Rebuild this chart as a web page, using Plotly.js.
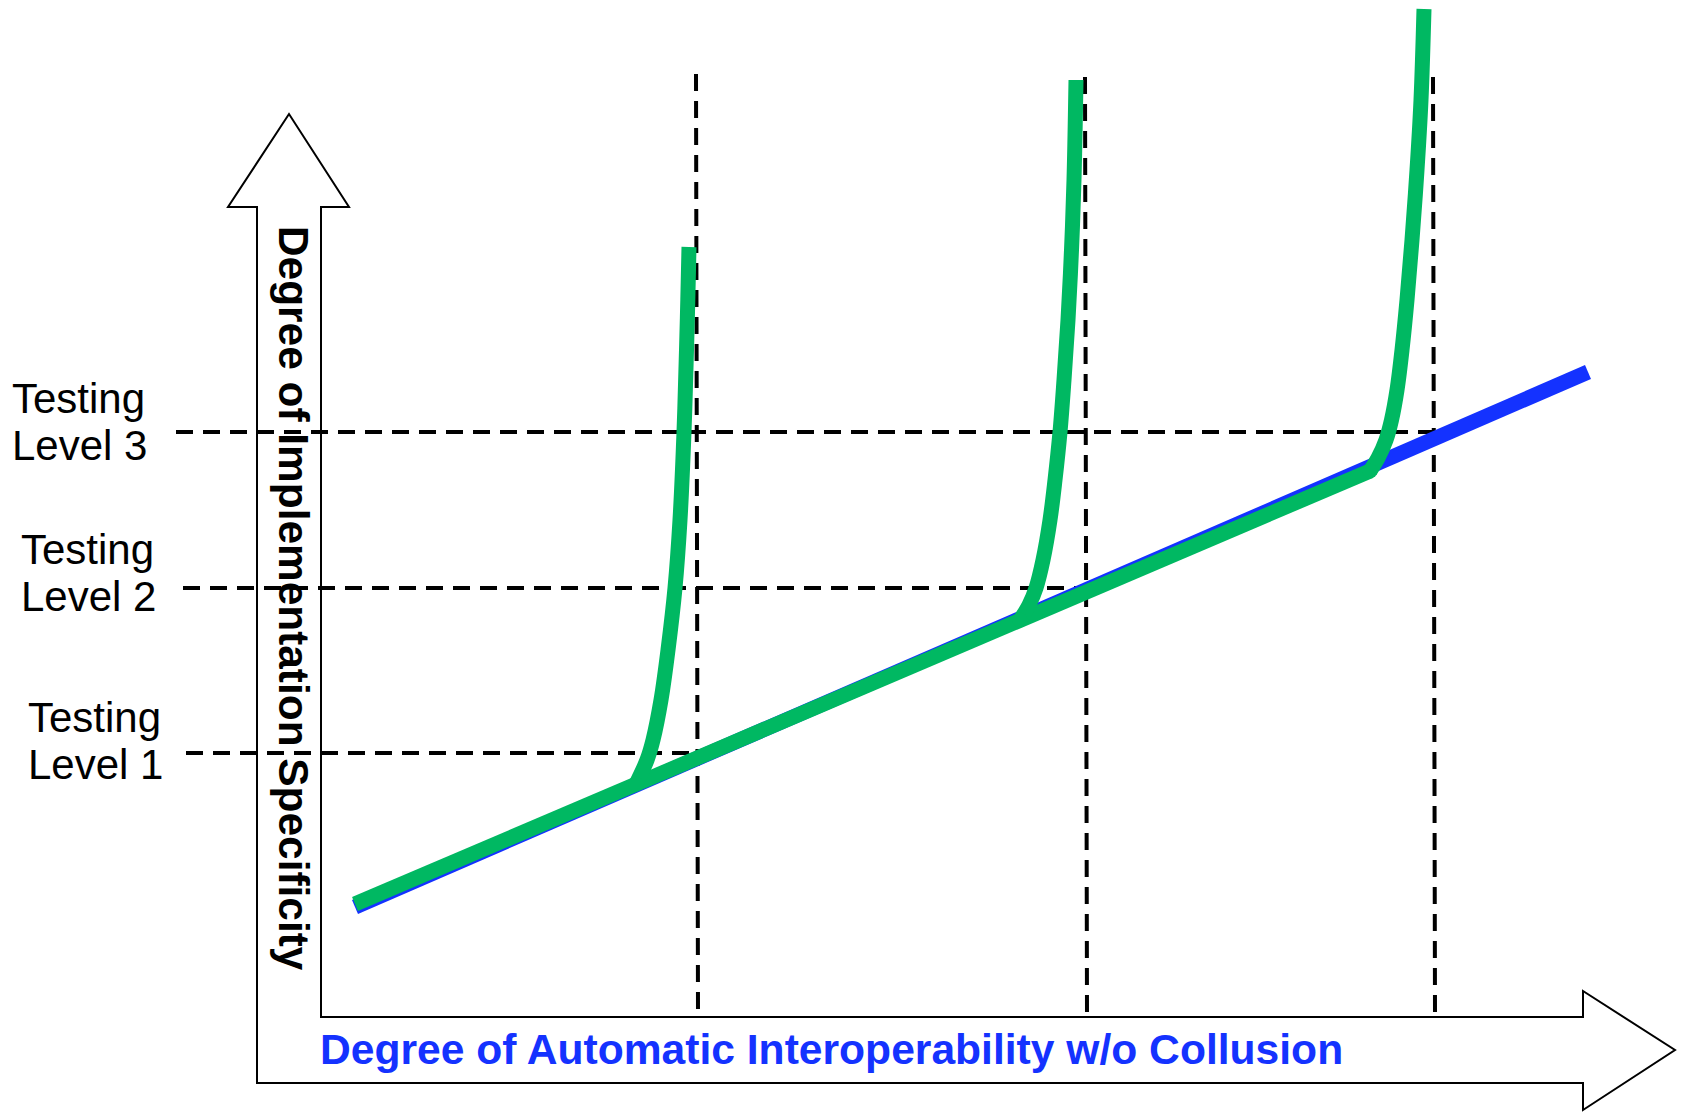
<!DOCTYPE html>
<html>
<head>
<meta charset="utf-8">
<script src="https://cdn.plot.ly/plotly-3.0.1.min.js"></script>
<style>html,body{margin:0;padding:0;background:#fff;}#chart{width:1681px;height:1112px;}</style>
</head>
<body>
<div id="chart"></div>
<script>
// ---------------- data ----------------
// Degree of Automatic Interoperability (x) vs Degree of Implementation Specificity (y)
const levelLine1 = ["Testing", "Testing", "Testing"];
const levelLine2 = ["Level 1", "Level 2", "Level 3"];
const levelY = [2.64, 4.29, 5.85];            // specificity of each testing level
const levelDashStart = [-1.35, -1.38, -1.45];
const levelDashEnd = [3.76, 7.65, 11.13];

const stageXTop = [3.75, 7.64, 11.12];        // interoperability limit of each stage
const stageXBottom = [3.77, 7.66, 11.14];
const stageYTop = [9.43, 9.40, 9.40];
const stageYBottom = [0.04, 0.03, 0.03];

const idealX = [0.34, 12.67];                 // blue trend line
const idealY = [1.10, 6.45];

const actualX = [0.34, 3.15, 6.99, 10.49];    // green line along the trend
const actualY = [1.13, 2.33, 3.97, 5.46];

const curve1X = [3.15, 3.26, 3.32, 3.40, 3.47, 3.54, 3.59, 3.63, 3.655, 3.668, 3.68];
const curve1Y = [2.33, 2.57, 2.77, 3.17, 3.67, 4.29, 4.97, 5.85, 6.67, 7.17, 7.70];
const curve2X = [6.99, 7.08, 7.15, 7.22, 7.29, 7.34, 7.39, 7.43, 7.47, 7.505, 7.53, 7.55];
const curve2Y = [3.97, 4.12, 4.29, 4.57, 4.97, 5.37, 5.85, 6.37, 6.97, 7.67, 8.37, 9.37];
const curve3X = [10.49, 10.57, 10.65, 10.705, 10.76, 10.81, 10.86, 10.91, 10.96, 11.00, 11.03];
const curve3Y = [5.46, 5.59, 5.77, 5.97, 6.27, 6.67, 7.17, 7.77, 8.47, 9.17, 10.08];

const xTitle = "Degree of Automatic Interoperability w/o Collusion";
const yTitle = "Degree of Implementation Specificity";

// ---------------- styles ----------------
const FONT = "Liberation Sans, Arial, Helvetica, sans-serif";
const BLUE = "#1432ff";
const GREEN = "#00b862";
const DASH = "17px,10px";
const LW = 15;

const traces = [];
// horizontal testing-level dashed lines
for (let i = 0; i < levelY.length; i++) {
  traces.push({x: [levelDashStart[i], levelDashEnd[i]], y: [levelY[i], levelY[i]],
    mode: "lines", line: {color: "#000", width: 4, dash: DASH}, hoverinfo: "skip", showlegend: false});
}
// vertical stage dashed lines
for (let i = 0; i < stageXTop.length; i++) {
  traces.push({x: [stageXTop[i], stageXBottom[i]], y: [stageYTop[i], stageYBottom[i]],
    mode: "lines", line: {color: "#000", width: 4, dash: DASH}, hoverinfo: "skip", showlegend: false});
}
traces.push({x: idealX, y: idealY, mode: "lines", line: {color: BLUE, width: LW}, showlegend: false});
traces.push({x: actualX, y: actualY, mode: "lines", line: {color: GREEN, width: LW}, showlegend: false});
[[curve1X, curve1Y], [curve2X, curve2Y], [curve3X, curve3Y]].forEach(c => {
  traces.push({x: c[0], y: c[1], mode: "lines", line: {color: GREEN, width: LW, shape: "spline", smoothing: 1}, showlegend: false});
});
// rounded joints where each curve leaves the trend line
traces.push({x: actualX.slice(1), y: actualY.slice(1), mode: "markers",
  marker: {color: GREEN, size: LW, line: {width: 0}}, showlegend: false});

// L-shaped double arrow outline (axes), in data units
const sxL = -0.64, sxR = 0.0, hxL = -0.93, hxR = 0.28, tipX = -0.32, tipY = 9.03, headBaseY = 8.10;
const tyT = 0.0, tyB = -0.66, hX = 12.62, hYT = 0.26, hYB = -0.93, tX = 13.54, tY = -0.33;
const arrowPath = `M ${sxR},${headBaseY} L ${sxR},${tyT} L ${hX},${tyT} L ${hX},${hYT} L ${tX},${tY} L ${hX},${hYB} L ${hX},${tyB} L ${sxL},${tyB} L ${sxL},${headBaseY} L ${hxL},${headBaseY} L ${tipX},${tipY} L ${hxR},${headBaseY} Z`;

const annotations = [];
const labelX = [-2.93, -3.00, -3.09];
const labelY1 = [3.00, 4.68, 6.19];
const labelY2 = [2.53, 4.21, 5.72];
for (let i = 0; i < levelLine1.length; i++) {
  annotations.push({x: labelX[i], y: labelY1[i], text: levelLine1[i], showarrow: false, xanchor: "left", yanchor: "middle",
    borderpad: 0, borderwidth: 0, font: {family: FONT, size: 42, color: "#000"}});
  annotations.push({x: labelX[i], y: labelY2[i], text: levelLine2[i], showarrow: false, xanchor: "left", yanchor: "middle",
    borderpad: 0, borderwidth: 0, font: {family: FONT, size: 42, color: "#000"}});
}
annotations.push({x: 5.105, y: -0.315, text: "<b>" + xTitle + "</b>", showarrow: false, xanchor: "center", yanchor: "middle",
  borderpad: 0, borderwidth: 0, font: {family: FONT, size: 42.6, color: BLUE}});
annotations.push({x: -0.275, y: 4.185, text: "<b>" + yTitle + "</b>", textangle: 90, showarrow: false, xanchor: "center", yanchor: "middle",
  borderpad: 0, borderwidth: 0, font: {family: FONT, size: 42.4, color: "#000"}});

const layout = {
  width: 1681, height: 1112,
  margin: {l: 0, r: 0, t: 0, b: 0, pad: 0},
  paper_bgcolor: "#fff", plot_bgcolor: "#fff",
  xaxis: {range: [-3.21, 13.60], visible: false, fixedrange: true},
  yaxis: {range: [-0.95, 10.17], visible: false, fixedrange: true},
  showlegend: false,
  shapes: [{type: "path", path: arrowPath, xref: "x", yref: "y", layer: "below",
    line: {color: "#000", width: 2}, fillcolor: "#fff"}],
  annotations: annotations
};

Plotly.newPlot("chart", traces, layout, {staticPlot: true, displayModeBar: false});
</script>
</body>
</html>
